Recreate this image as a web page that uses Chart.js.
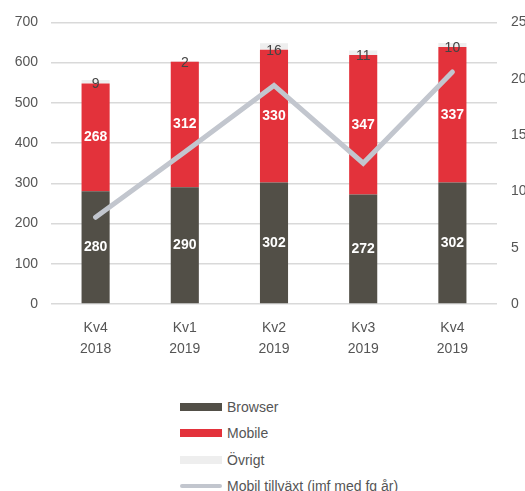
<!DOCTYPE html>
<html>
<head>
<meta charset="utf-8">
<script src="https://cdn.jsdelivr.net/npm/chart.js@4"></script>
<style>
  body { margin: 0; background: #fff; font-family: "Liberation Sans", Arial, sans-serif; }
  #wrap { position: relative; width: 525px; height: 491px; overflow: hidden; }
  #box { position: absolute; left: 0; top: 0; width: 525px; height: 374px; }
  .legend { position: absolute; left: 180px; top: 394px; }
  .legend div { height: 26.3px; display: flex; align-items: center; font-size: 14px; color: #555; }
  .legend span.sw { display: inline-block; width: 42px; height: 8px; margin-right: 5px; }
  .legend span.ln { display: inline-block; width: 42px; height: 4px; border-radius: 2px; margin-right: 5px; }
</style>
</head>
<body>
<div id="wrap">
  <div id="box"><canvas id="chart"></canvas></div>
  <div class="legend" id="legend"></div>
</div>
<script>
const quarters = [['Kv4', '2018'], ['Kv1', '2019'], ['Kv2', '2019'], ['Kv3', '2019'], ['Kv4', '2019']];
const browser = [280, 290, 302, 272, 302];
const mobile = [268, 312, 330, 347, 337];
const ovrigt = [9, 2, 16, 11, 10];
const mobilGrowth = [7.7, 13.5, 19.4, 12.5, 20.6];

const colors = { browser: '#524f47', mobile: '#e3323b', ovrigt: '#eeeeee', line: '#c2c6ce' };
const fam = '"Liberation Sans", Arial, sans-serif';

// value labels inside / above the bars
const barLabels = {
  id: 'barLabels',
  afterDatasetsDraw(chart) {
    const ctx = chart.ctx;
    ctx.save();
    ctx.textAlign = 'center';
    ctx.textBaseline = 'middle';
    [0, 1].forEach(di => {
      const meta = chart.getDatasetMeta(di);
      meta.data.forEach((bar, i) => {
        ctx.font = 'bold 14px ' + fam;
        ctx.fillStyle = '#fff';
        ctx.fillText(chart.data.datasets[di].data[i], bar.x, (bar.y + bar.base) / 2);
      });
    });
    const meta = chart.getDatasetMeta(2);
    meta.data.forEach((bar, i) => {
      ctx.font = '14px ' + fam;
      ctx.fillStyle = '#444';
      ctx.fillText(ovrigt[i], bar.x, bar.base + 1);
    });
    ctx.restore();
  }
};

new Chart(document.getElementById('chart'), {
  type: 'bar',
  data: {
    labels: quarters,
    datasets: [
      { label: 'Browser', data: browser, backgroundColor: colors.browser, order: 1, stack: 's' },
      { label: 'Mobile', data: mobile, backgroundColor: colors.mobile, order: 1, stack: 's' },
      { label: 'Övrigt', data: ovrigt, backgroundColor: colors.ovrigt, order: 1, stack: 's' },
      {
        type: 'line', label: 'Mobil tillväxt (jmf med fg år)', data: mobilGrowth, yAxisID: 'y1',
        borderColor: colors.line, borderWidth: 5, borderCapStyle: 'round',
        pointRadius: 0, tension: 0, order: 0
      }
    ]
  },
  options: {
    responsive: true,
    maintainAspectRatio: false,
    animation: false,
    layout: { padding: { top: 12, left: 0, right: 0, bottom: 0 } },
    datasets: { bar: { categoryPercentage: 1, barPercentage: 0.315 } },
    plugins: { legend: { display: false }, tooltip: { enabled: false } },
    scales: {
      x: {
        stacked: true,
        grid: { display: false, drawTicks: false },
        border: { display: false },
        ticks: { color: '#555', padding: 14, font: { size: 14, lineHeight: 1.5, family: fam } }
      },
      y: {
        stacked: true, min: 0, max: 700,
        afterFit(s) { s.width = 51; },
        grid: { color: '#d9d9d9', lineWidth: 1.5, drawTicks: false },
        border: { display: false },
        ticks: { stepSize: 100, padding: 13, color: '#555', font: { size: 14, family: fam } }
      },
      y1: {
        position: 'right', min: 0, max: 25,
        afterFit(s) { s.width = 28; },
        grid: { display: false, drawTicks: false },
        border: { display: false },
        ticks: { stepSize: 5, padding: 14, color: '#555', font: { size: 14, family: fam } }
      }
    }
  },
  plugins: [barLabels]
});

// legend, one entry per row
const legendItems = [
  { label: 'Browser', color: colors.browser, kind: 'sw' },
  { label: 'Mobile', color: colors.mobile, kind: 'sw' },
  { label: 'Övrigt', color: colors.ovrigt, kind: 'sw' },
  { label: 'Mobil tillväxt (jmf med fg år)', color: colors.line, kind: 'ln' }
];
document.getElementById('legend').innerHTML = legendItems.map(it =>
  `<div><span class="${it.kind}" style="background:${it.color}"></span>${it.label}</div>`).join('');
</script>
</body>
</html>
